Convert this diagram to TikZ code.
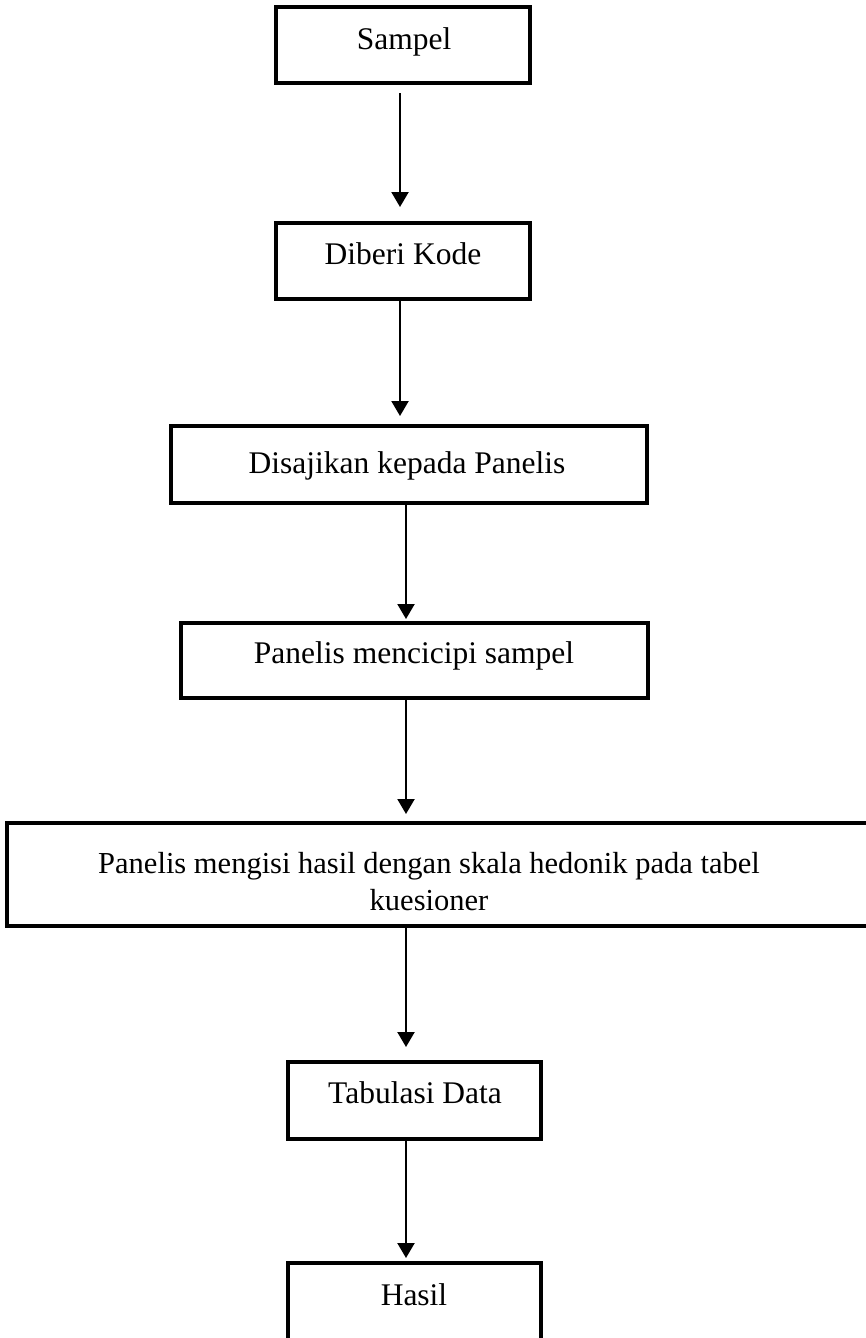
\documentclass[tikz,border=0pt]{standalone}
\usepackage{fontspec}
\setmainfont{Liberation Serif}
\usetikzlibrary{arrows.meta}

\begin{document}
\begin{tikzpicture}[
  x=1pt, y=-1pt,
  box/.style={draw=black, line width=3.3pt, fill=white, inner sep=0pt, outer sep=0pt},
  lbl/.style={inner sep=0pt, font=\fontsize{31.5}{37}\selectfont},
  arr/.style={draw=black, line width=2.2pt, -{Triangle[width=17pt,length=15pt]}}
]
\useasboundingbox (0,0) rectangle (866,1338);

% process steps
\node[box, minimum width=254pt, minimum height=76pt] (b1) at (403,45) {};
\node[box, minimum width=254pt, minimum height=76pt] (b2) at (403,261) {};
\node[box, minimum width=476pt, minimum height=77pt] (b3) at (409,464.5) {};
\node[box, minimum width=467pt, minimum height=75pt] (b4) at (414.5,660.5) {};
\node[box, minimum width=868pt, minimum height=103pt] (b5) at (441,874.5) {};
\node[box, minimum width=253pt, minimum height=77pt] (b6) at (414.5,1100.5) {};
\node[box, minimum width=253pt, minimum height=87pt] (b7) at (414.5,1306.5) {};

% step labels
\node[lbl, anchor=base] (t1) at (404,50) {Sampel};
\node[lbl, anchor=base] (t2) at (403,264) {Diberi Kode};
\node[lbl, anchor=base] (t3) at (407,473) {Disajikan kepada Panelis};
\node[lbl, anchor=base] (t4) at (414,663) {Panelis mencicipi sampel};
\node[lbl, anchor=base, align=center, font=\fontsize{30.5}{37}\selectfont] (t5) at (429,910)
  {Panelis mengisi hasil dengan skala hedonik pada tabel\\kuesioner};
\node[lbl, anchor=base] (t6) at (415,1103) {Tabulasi Data};
\node[lbl, anchor=base] (t7) at (414,1305) {Hasil};

% flow arrows
\coordinate (c1) at (400,0);
\coordinate (c2) at (406,0);
\draw[arr, shorten <=10pt, shorten >=16pt] (b1.south -| c1) -- (b2.north -| c1);
\draw[arr, shorten >=10pt] (b2.south -| c1) -- (b3.north -| c1);
\draw[arr, shorten >=4pt] (b3.south -| c2) -- (b4.north -| c2);
\draw[arr, shorten >=9pt] (b4.south -| c2) -- (b5.north -| c2);
\draw[arr, shorten >=15pt] (b5.south -| c2) -- (b6.north -| c2);
\draw[arr, shorten >=5pt] (b6.south -| c2) -- (b7.north -| c2);
\end{tikzpicture}
\end{document}
